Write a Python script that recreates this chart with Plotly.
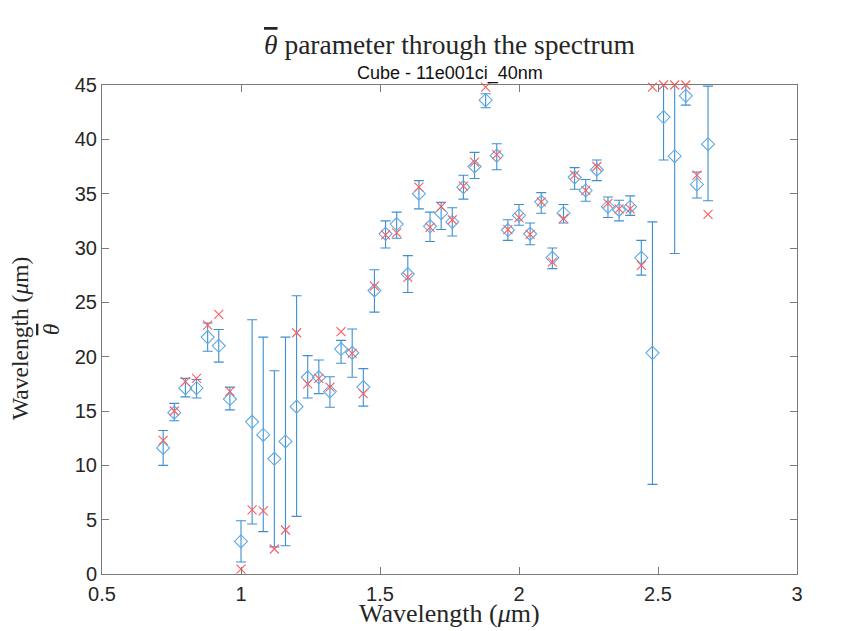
import plotly.graph_objects as go

# Wavelengths (um)
wavelength = [0.72, 0.76, 0.80, 0.84, 0.88, 0.92, 0.96, 1.00, 1.04, 1.08,
              1.12, 1.16, 1.20, 1.24, 1.28, 1.32, 1.36, 1.40, 1.44, 1.48,
              1.52, 1.56, 1.60, 1.64, 1.68, 1.72, 1.76, 1.80, 1.84, 1.88,
              1.92, 1.96, 2.00, 2.04, 2.08, 2.12, 2.16, 2.20, 2.24, 2.28,
              2.32, 2.36, 2.40, 2.44, 2.48, 2.52, 2.56, 2.60, 2.64, 2.68]

# Estimated theta-bar (diamonds)
theta_mean = [11.6, 14.85, 17.1, 17.1, 21.8, 21.0, 16.1, 3.0, 14.0, 12.8,
              10.6, 12.2, 15.4, 18.1, 18.1, 16.8, 20.7, 20.35, 17.2, 26.1,
              31.3, 32.2, 27.6, 35.0, 32.0, 33.2, 32.4, 35.6, 37.5, 43.6,
              38.5, 31.65, 33.0, 31.3, 34.25, 29.1, 33.2, 36.5, 35.3, 37.2,
              33.8, 33.5, 33.8, 29.1, 20.35, 42.05, 38.45, 44.0, 35.85, 39.55]

# Upper / lower ends of the error bars
theta_upper = [13.2, 15.7, 18.0, 17.9, 23.1, 22.5, 17.2, 4.9, 23.4, 21.8,
               18.7, 21.8, 25.6, 20.1, 19.7, 18.15, 21.5, 22.55, 18.9, 28.0,
               32.5, 33.3, 29.3, 36.2, 33.3, 34.2, 33.7, 36.7, 38.8, 44.2,
               39.6, 32.6, 34.0, 32.3, 35.1, 30.0, 34.0, 37.4, 36.3, 38.1,
               34.7, 34.4, 34.8, 30.7, 32.4, 45.5, 45.5, 45.5, 37.0, 44.9]

theta_lower = [10.0, 14.1, 16.3, 16.2, 20.5, 19.5, 15.1, 1.1, 4.6, 3.9,
               2.5, 2.6, 5.3, 16.2, 16.6, 15.35, 19.4, 18.1, 15.45, 24.1,
               30.0, 30.9, 25.9, 33.6, 30.6, 31.7, 31.1, 34.5, 36.4, 42.9,
               37.2, 30.7, 32.1, 30.3, 33.2, 28.1, 32.3, 35.4, 34.3, 36.2,
               32.8, 32.5, 33.0, 27.5, 8.25, 38.1, 29.5, 43.15, 34.6, 34.35]

# Reference values (red crosses)
theta_ref = [12.3, 15.0, 17.7, 18.0, 22.9, 23.9, 16.8, 0.45, 5.9, 5.8,
             2.3, 4.05, 22.2, 17.5, 18.0, 17.2, 22.3, 20.3, 16.6, 26.5,
             31.2, 31.4, 27.3, 35.6, 31.9, 33.8, 32.6, 35.7, 37.9, 44.8,
             38.6, 31.7, 32.8, 31.25, 34.25, 28.7, 32.7, 36.7, 35.3, 37.5,
             34.1, 33.6, 33.6, 28.4, 44.8, 45.0, 45.0, 45.0, 36.7, 33.1]

x_ticks = [0.5, 1, 1.5, 2, 2.5, 3]
x_ticktext = ["0.5", "1", "1.5", "2", "2.5", "3"]
y_ticks = [0, 5, 10, 15, 20, 25, 30, 35, 40, 45]

err_plus = [u - m for u, m in zip(theta_upper, theta_mean)]
err_minus = [m - l for m, l in zip(theta_mean, theta_lower)]

BLUE_BAR = "#3f8fd0"
BLUE_MARK = "#5eaae2"
RED = "#ff5c5c"
AXIS = "#7a7a7a"
TXT = "#262626"
SERIF = "Liberation Serif, Times New Roman, serif"
THETA = '<span style="text-decoration:overline"><i>θ</i></span>'
PLOT_H = 631 - 85 - 57

fig = go.Figure()
fig.add_trace(go.Scatter(
    x=wavelength, y=theta_mean, mode="markers",
    marker=dict(symbol="diamond-open", size=10, color=BLUE_MARK,
                line=dict(width=1.1, color=BLUE_MARK)),
    error_y=dict(type="data", symmetric=False, array=err_plus,
                 arrayminus=err_minus, color=BLUE_BAR, thickness=1.1, width=5),
    showlegend=False,
))
fig.add_trace(go.Scatter(
    x=wavelength, y=theta_ref, mode="markers",
    marker=dict(symbol="x-thin-open", size=9, color=RED,
                line=dict(width=1.1, color=RED)),
    cliponaxis=False, showlegend=False,
))

fig.update_layout(
    width=849, height=631,
    margin=dict(l=102, r=52, t=85, b=57, autoexpand=False),
    paper_bgcolor="white", plot_bgcolor="white",
    font=dict(family="Liberation Sans, Arial, sans-serif", color=TXT, size=19),
    annotations=[
        dict(text=THETA + " parameter through the spectrum",
             x=0.5, y=1 + 40 / PLOT_H, xref="paper", yref="paper",
             xanchor="center", yanchor="middle", showarrow=False,
             font=dict(family=SERIF, size=27.5, color=TXT)),
        dict(text="Cube - 11e001ci_40nm",
             x=0.5, y=1 + 11 / PLOT_H, xref="paper", yref="paper",
             xanchor="center", yanchor="middle", showarrow=False,
             font=dict(family="Liberation Sans, Arial, sans-serif",
                       size=18, color="#111111")),
        dict(text="Wavelength (<i>μ</i>m)",
             x=0.5, y=-56 / PLOT_H, xref="paper", yref="paper",
             xanchor="center", yanchor="bottom", showarrow=False,
             font=dict(family=SERIF, size=26, color=TXT)),
    ],
)

fig.update_xaxes(
    range=[0.5, 3], tickvals=x_ticks, ticktext=x_ticktext,
    ticks="inside", ticklen=7, tickcolor=AXIS, tickwidth=1,
    showline=True, linecolor=AXIS, linewidth=1, mirror="ticks",
    showgrid=False, zeroline=False, automargin=False,
    tickfont=dict(size=20, color=TXT), ticklabelstandoff=2,
)
fig.update_yaxes(
    range=[0, 45], tickvals=y_ticks,
    ticks="inside", ticklen=7, tickcolor=AXIS, tickwidth=1,
    showline=True, linecolor=AXIS, linewidth=1, mirror="ticks",
    showgrid=False, zeroline=False, automargin=False,
    tickfont=dict(size=20, color=TXT),
    title=dict(text="Wavelength (<i>μ</i>m)\u00a0\u00a0\u00a0<br>" + THETA,
               standoff=8,
               font=dict(family=SERIF, size=23.5, color=TXT)),
)

fig.write_html("out.html")
